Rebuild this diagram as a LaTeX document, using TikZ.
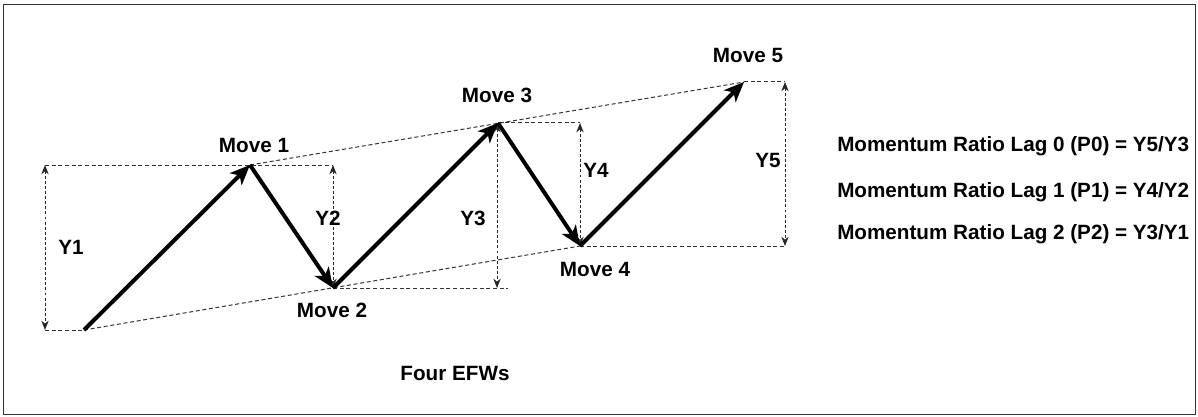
\documentclass[tikz,border=0pt]{standalone}
\usepackage{fontspec}
\setmainfont{Liberation Sans}
\usetikzlibrary{arrows.meta}
\tikzset{
  lbl/.style={font=\fontsize{15.5}{18}\selectfont\bfseries, inner sep=0pt},
  movearrow/.style={line width=3pt, -{Stealth[length=15pt,width=12.5pt,inset=4pt]}},
  guide/.style={line width=0.75pt, black!80, dash pattern=on 3pt off 2pt},
  measure/.style={line width=0.75pt, black!85, dash pattern=on 2.2pt off 1.6pt, {Stealth[length=7pt,width=5.5pt]}-{Stealth[length=7pt,width=5.5pt]}},
  frame/.style={line width=1.3pt, black!80}
}
\begin{document}
\begin{tikzpicture}[x=0.75pt,y=-0.75pt]
\useasboundingbox (0,0) rectangle (1198,417);
\draw[frame] (3.5,4.5) rectangle (1195.5,414.5);
% vertices
\coordinate (v0) at (84,330);
\coordinate (v1) at (250,165);
\coordinate (v2) at (333,288);
\coordinate (v3) at (498,123);
\coordinate (v4) at (580,246);
\coordinate (v5) at (744,82);
% measure end points
\coordinate (y1t) at (45,165);
\coordinate (y1b) at (45,330);
\coordinate (y2t) at (333,165);
\coordinate (y2b) at (333,288);
\coordinate (y3t) at (497,123);
\coordinate (y3b) at (497,288);
\coordinate (y3e) at (508,288);
\coordinate (y4t) at (580,123);
\coordinate (y4b) at (580,246);
\coordinate (y5t) at (785,82);
\coordinate (y5b) at (785,246);
% guide lines
\draw[guide] (v0) -- (v4);
\draw[guide] (v1) -- (v5);
\draw[guide] (y1t) -- (y2t);
\draw[guide] (y1b) -- (v0);
\draw[guide] (v2) -- (y3e);
\draw[guide] (v3) -- (y4t);
\draw[guide] (v5) -- (y5t);
\draw[guide] (v4) -- (y5b);
% measures
\draw[measure] (y1t) -- (y1b);
\draw[measure] (y2t) -- (y2b);
\draw[measure] (y3t) -- (y3b);
\draw[measure] (y4t) -- (y4b);
\draw[measure] (y5t) -- (y5b);
% moves
\draw[movearrow] (v0) -- (v1);
\draw[movearrow] (v1) -- (v2);
\draw[movearrow] (v2) -- (v3);
\draw[movearrow] (v3) -- (v4);
\draw[movearrow] (v4) -- (v5);
% labels
\node[lbl] (m1) at (254,145) {Move 1};
\node[lbl] (m2) at (332,310) {Move 2};
\node[lbl] (m3) at (497,95) {Move 3};
\node[lbl] (m4) at (595,269) {Move 4};
\node[lbl] (m5) at (748,55) {Move 5};
\node[lbl] (l1) at (71,247) {Y1};
\node[lbl] (l2) at (328,218) {Y2};
\node[lbl] (l3) at (473,218) {Y3};
\node[lbl] (l4) at (596,170) {Y4};
\node[lbl] (l5) at (768,160) {Y5};
\node[lbl] (efw) at (455,373) {Four EFWs};
\node[lbl, anchor=west] (r0) at (837,146) {Momentum Ratio Lag 0 (P0) = Y5/Y3};
\node[lbl, anchor=west] (r1) at (837,192) {Momentum Ratio Lag 1 (P1) = Y4/Y2};
\node[lbl, anchor=west] (r2) at (837,234) {Momentum Ratio Lag 2 (P2) = Y3/Y1};
\end{tikzpicture}
\end{document}
